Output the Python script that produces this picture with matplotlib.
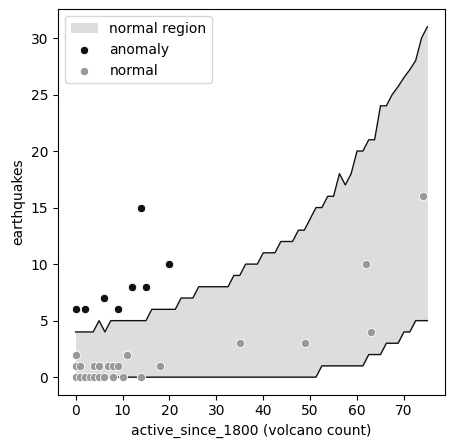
import numpy as np
import matplotlib
matplotlib.use("Agg")
import matplotlib.pyplot as plt

# band of "normal" earthquake counts, sampled every 1.25 volcanoes
band_x = np.linspace(0, 75, 61)
band_hi = [4, 4, 4, 4, 5, 4, 5, 5, 5, 5, 5, 5, 5, 6, 6, 6, 6, 6, 7, 7,
           7, 8, 8, 8, 8, 8, 8, 9, 9, 10, 10, 10, 11, 11, 11, 12, 12, 12, 13, 13,
           14, 15, 15, 16, 16, 18, 17, 18, 20, 20, 21, 21, 24, 24, 25, 25.7, 26.5, 27.2, 28, 30,
           31]
band_lo = [0, 0, 0, 0, 0, 0, 0, 0, 0, 0, 0, 0, 0, 0, 0, 0, 0, 0, 0, 0,
           0, 0, 0, 0, 0, 0, 0, 0, 0, 0, 0, 0, 0, 0, 0, 0, 0, 0, 0, 0,
           0, 0, 1, 1, 1, 1, 1, 1, 1, 1, 2, 2, 2, 3, 3, 3, 4, 4, 5, 5,
           5]

# points
anom_x = [0, 2, 6, 9, 12, 15, 14, 20]
anom_y = [6, 6, 7, 6, 8, 8, 15, 10]
norm_x = [0, 11, 0, 1, 4, 5, 7, 8, 9, 18,
          0, 1, 2, 3, 4, 5, 6, 8, 10, 14,
          35, 49, 62, 63, 74]
norm_y = [2, 2, 1, 1, 1, 1, 1, 1, 1, 1,
          0, 0, 0, 0, 0, 0, 0, 0, 0, 0,
          3, 3, 10, 4, 16]

fig = plt.figure(figsize=(4.55, 4.48), dpi=100)
ax = fig.add_axes([0.1275, 0.119, 0.8505, 0.8605])

ax.fill_between(band_x, band_lo, band_hi, color="#dddddd", lw=0, label="normal region")
ax.plot(band_x, band_hi, color="#111111", lw=1)
ax.plot(band_x, band_lo, color="#111111", lw=1)

ax.scatter(anom_x, anom_y, s=36, color="#111111", edgecolor="white", lw=0.6, label="anomaly", zorder=3)
ax.scatter(norm_x, norm_y, s=36, color="#999999", edgecolor="white", lw=0.6, label="normal", zorder=3)

ax.set_xlabel("active_since_1800 (volcano count)")
ax.set_ylabel("earthquakes")
ax.legend(loc="upper left")

fig.savefig("out.png", dpi=100)
